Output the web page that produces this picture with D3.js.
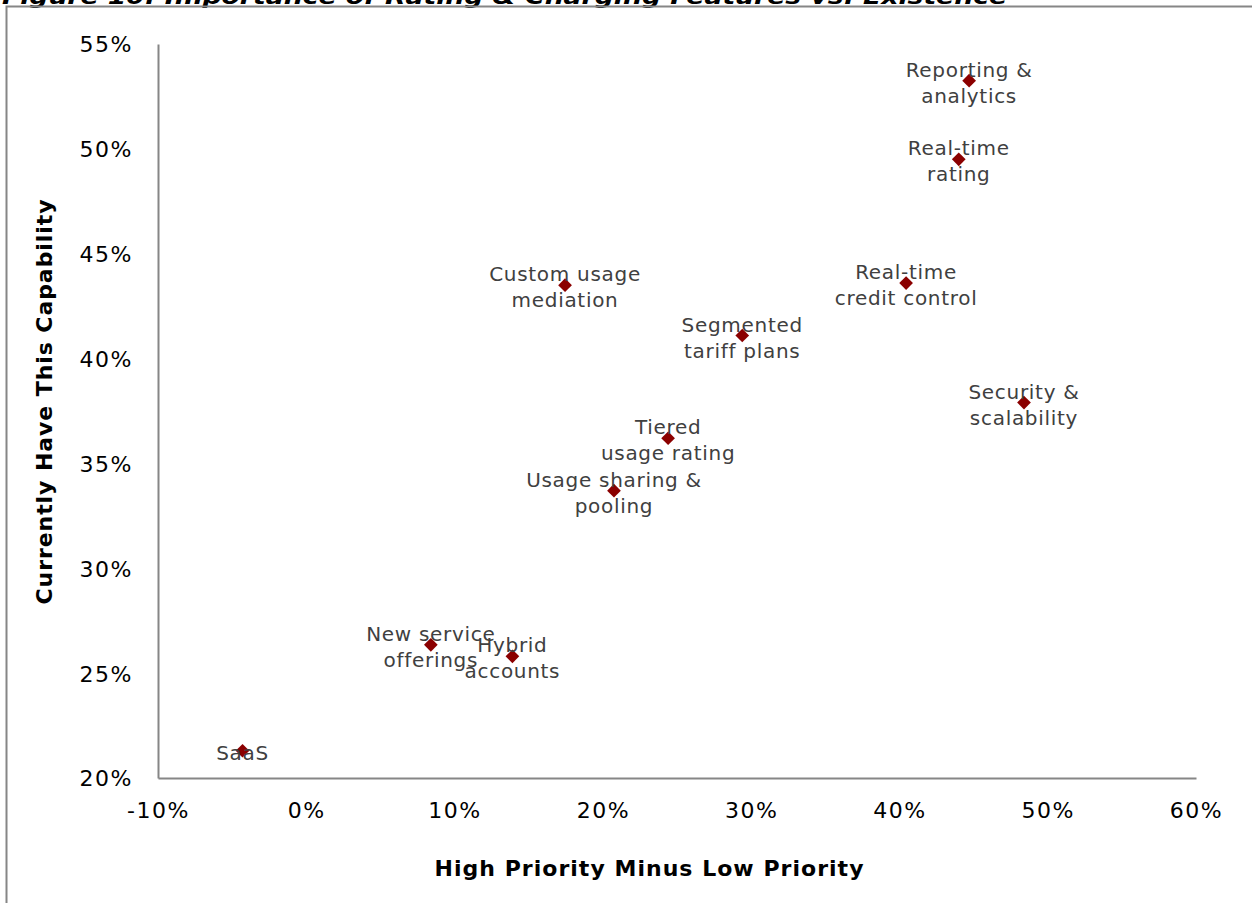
<!DOCTYPE html>
<html>
<head>
<meta charset="utf-8">
<script src="https://cdn.jsdelivr.net/npm/d3@7"></script>
<style>
  html, body { margin: 0; padding: 0; background: #fff; }
  svg { display: block; }
</style>
</head>
<body>
<svg id="chart" width="1252" height="903"></svg>
<script>
// ---- Data ----
const labels = [
  ["SaaS"],
  ["New service", "offerings"],
  ["Hybrid", "accounts"],
  ["Usage sharing &", "pooling"],
  ["Tiered", "usage rating"],
  ["Custom usage", "mediation"],
  ["Segmented", "tariff plans"],
  ["Real-time", "credit control"],
  ["Security &", "scalability"],
  ["Real-time", "rating"],
  ["Reporting &", "analytics"]
];
const xValues = [-4.3, 8.4, 13.9, 20.75, 24.4, 17.45, 29.4, 40.45, 48.4, 44.0, 44.7];
const yValues = [21.3, 26.35, 25.8, 33.7, 36.2, 43.5, 41.1, 43.6, 37.9, 49.5, 53.25];
const xTicks = [-10, 0, 10, 20, 30, 40, 50, 60];
const yTicks = [20, 25, 30, 35, 40, 45, 50, 55];
const titleText = "Figure 10: Importance of Rating & Charging Features vs. Existence";
const xTitle = "High Priority Minus Low Priority";
const yTitle = "Currently Have This Capability";

// ---- Layout ----
const svg = d3.select("#chart");
const font = "Verdana, 'DejaVu Sans', sans-serif";
const plot = { left: 158, right: 1196, top: 44, bottom: 778 };

const x = d3.scaleLinear().domain([-10, 60]).range([plot.left, plot.right]);
const y = d3.scaleLinear().domain([20, 55]).range([plot.bottom, plot.top]);

// Title (cut off at top, as in the source)
svg.append("text")
  .attr("x", 2).attr("y", 4)
  .attr("font-family", font)
  .attr("font-weight", "bold")
  .attr("font-style", "italic")
  .attr("font-size", 21)
  .attr("textLength", 1005)
  .attr("lengthAdjust", "spacingAndGlyphs")
  .attr("fill", "#000")
  .text(titleText);

// Outer border
svg.append("rect")
  .attr("x", 6.5).attr("y", 6.5)
  .attr("width", 1260).attr("height", 910)
  .attr("fill", "none")
  .attr("stroke", "#868686")
  .attr("stroke-width", 2);

// Axes
const xAxis = d3.axisBottom(x).tickValues(xTicks).tickSize(0).tickPadding(0)
  .tickFormat(d => d + "%");
const yAxis = d3.axisLeft(y).tickValues(yTicks).tickSize(0).tickPadding(0)
  .tickFormat(d => d + "%");

const gx = svg.append("g").attr("transform", `translate(0,${plot.bottom})`).call(xAxis);
gx.select(".domain").attr("stroke", "#868686").attr("stroke-width", 2);
gx.selectAll("text")
  .attr("font-family", font).attr("font-size", 22).attr("fill", "#000")
  .attr("letter-spacing", 1.5)
  .attr("dy", null).attr("y", 40);

const gy = svg.append("g").attr("transform", `translate(${plot.left},0)`).call(yAxis);
gy.select(".domain").attr("stroke", "#868686").attr("stroke-width", 2);
gy.selectAll("text")
  .attr("font-family", font).attr("font-size", 22).attr("fill", "#000")
  .attr("letter-spacing", 1.5)
  .attr("x", -25).attr("dy", "0.36em");

// Axis titles
svg.append("text")
  .attr("x", 649).attr("y", 876)
  .attr("text-anchor", "middle")
  .attr("font-family", font).attr("font-weight", "bold").attr("font-size", 22)
  .attr("textLength", 429).attr("lengthAdjust", "spacing")
  .attr("fill", "#000")
  .text(xTitle);

svg.append("text")
  .attr("transform", "translate(52,402) rotate(-90)")
  .attr("text-anchor", "middle")
  .attr("font-family", font).attr("font-weight", "bold").attr("font-size", 22)
  .attr("textLength", 405).attr("lengthAdjust", "spacing")
  .attr("fill", "#000")
  .text(yTitle);

// Points
const data = labels.map((l, i) => ({ label: l, x: xValues[i], y: yValues[i] }));

svg.append("g").selectAll("path")
  .data(data).join("path")
  .attr("d", d3.symbol().type(d3.symbolDiamond2).size(120))
  .attr("transform", d => `translate(${x(d.x)},${y(d.y)})`)
  .attr("fill", "#8b0000");

// Labels
const lg = svg.append("g");
data.forEach(d => {
  const cx = x(d.x), cy = y(d.y);
  const t = lg.append("text")
    .attr("text-anchor", "middle")
    .attr("font-family", font).attr("font-size", 20)
    .attr("letter-spacing", 0.7)
    .attr("fill", "#404040");
  if (d.label.length === 1) {
    t.append("tspan").attr("x", cx).attr("y", cy + 9).text(d.label[0]);
  } else {
    t.append("tspan").attr("x", cx).attr("y", cy - 4).text(d.label[0]);
    t.append("tspan").attr("x", cx).attr("y", cy + 22).text(d.label[1]);
  }
});
</script>
</body>
</html>
